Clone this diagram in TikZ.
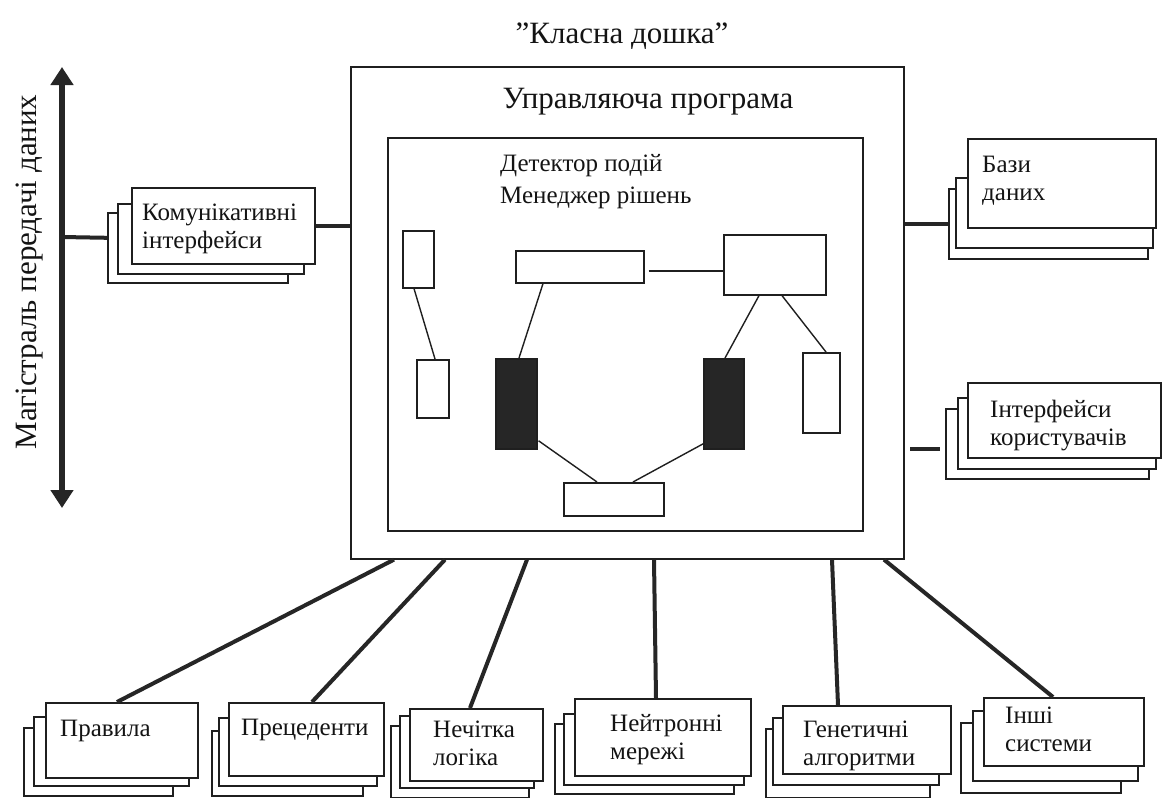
\documentclass[tikz,border=0pt]{standalone}
\usepackage{fontspec}
\setmainfont{Liberation Serif}
\usetikzlibrary{arrows.meta,calc}
\newcommand{\drawrect}[6][]{\node[sbox,#1,anchor=north west,minimum width={(#5-#3)*1pt},minimum height={(#6-#4)*1pt}] (#2) at (#3,#4) {};}
\tikzset{
  sbox/.style={draw=black!88, fill=white, line width=1.6pt, inner sep=0pt},
  darkbox/.style={fill=black!85},
  conn/.style={line width=4pt, draw=black!85},
  thinline/.style={line width=1.4pt, draw=black!88},
  lbl/.style={font=\fontsize{25}{28}\selectfont, anchor=base west, inner sep=0pt, align=left, text=black!92},
  big/.style={font=\fontsize{31}{36}\selectfont, inner sep=0pt, text=black!92},
}
\begin{document}
\begin{tikzpicture}[x=1pt,y=-1pt]
\useasboundingbox[fill=white] (0,0) rectangle (1165,798);

% title
\node[big] (title) at (622,36) {\symbol{34}Класна дошка\symbol{34}};

% bus
\coordinate (btop) at (62,67);
\coordinate (bbot) at (62,508);
\coordinate (btap) at (62,237);
\draw[line width=6pt, draw=black!85, {Triangle[length=18pt,width=22pt]}-{Triangle[length=18pt,width=22pt]}] (btop) -- (bbot);
\node[big, rotate=90, anchor=base] (busl) at (36,272) {Магістраль передачі даних};

% main box
\drawrect{M}{350}{66}{903}{558}
\node[big] (ctrl) at (648,102) {Управляюча програма};
\drawrect{I}{387}{137}{862}{530}
\node[lbl, font=\fontsize{25}{32}\selectfont] (det) at (500,203) {Детектор подій\\Менеджер рішень};

% inner boxes
\drawrect{A}{402}{230}{433}{287}
\drawrect{B}{416}{359}{448}{417}
\drawrect{C}{515}{250}{643}{282}
\drawrect{D}{723}{234}{825}{294}
\drawrect[darkbox]{DL}{495}{358}{536}{448}
\drawrect[darkbox]{DR}{703}{358}{743}{448}
\drawrect{E}{802}{352}{839}{432}
\drawrect{F}{563}{482}{663}{515}
\draw[thinline] ($(A.south west)+(12,0)$) -- ($(B.north west)+(19,0)$);
\draw[thinline] ($(C.south west)+(28,0)$) -- ($(DL.north west)+(24,0)$);
\draw[thinline] ($(C.east)+(4,4)$) -- ($(D.west)+(0,6)$);
\draw[thinline] ($(D.south west)+(36,0)$) -- ($(DR.north west)+(22,0)$);
\draw[thinline] ($(D.south west)+(59,0)$) -- ($(E.north west)+(24,0)$);
\draw[thinline] ($(DL.east)+(1,37)$) -- ($(F.north west)+(34,0)$);
\draw[thinline] ($(DR.west)+(2,39)$) -- ($(F.north west)+(70,0)$);

% communication interfaces
\drawrect{c3}{107}{212}{287}{282}
\drawrect{c2}{117}{203}{303}{273}
\drawrect{c1}{131}{187}{314}{263}
\node[lbl] (ct) at (142,248) {Комунікативні\\інтерфейси};
\draw[conn] (btap) -- ($(c3.west)+(0,-10)$);
\draw[conn] (c1.east) -- (M.west |- c1.east);

% databases
\drawrect{b3}{948}{188}{1147}{258}
\drawrect{b2}{955}{177}{1152}{247}
\drawrect{b1}{967}{138}{1155}{227}
\node[lbl] (bt) at (982,200) {Бази\\даних};
\draw[conn] (M.east |- b3.west) -- (b3.west);

% user interfaces
\drawrect{u3}{945}{408}{1148}{478}
\drawrect{u2}{957}{397}{1155}{468}
\drawrect{u1}{967}{382}{1160}{457}
\node[lbl] (ut) at (990,445) {Інтерфейси\\користувачів};
\coordinate (ua) at ($(u3.west)+(-35,5)$);
\coordinate (ub) at ($(u3.west)+(-5,5)$);
\draw[conn] (ua) -- (ub);

% bottom stacks
\drawrect{p3}{23}{727}{172}{795}
\drawrect{p2}{33}{716}{188}{785}
\drawrect{p1}{45}{702}{197}{777}
\node[lbl] (pt) at (60,736) {Правила};

\drawrect{r3}{211}{730}{362}{795}
\drawrect{r2}{218}{717}{376}{785}
\drawrect{r1}{228}{702}{383}{775}
\node[lbl] (rt) at (241,735) {Прецеденти};

\drawrect{n3}{390}{725}{528}{797}
\drawrect{n2}{399}{715}{533}{787}
\drawrect{n1}{409}{708}{542}{780}
\node[lbl] (nt) at (433,765) {Нечітка\\логіка};

\drawrect{h3}{554}{723}{733}{793}
\drawrect{h2}{563}{713}{743}{784}
\drawrect{h1}{574}{698}{750}{775}
\node[lbl] (ht) at (610,759) {Нейтронні\\мережі};

\drawrect{g3}{765}{728}{929}{797}
\drawrect{g2}{772}{717}{938}{784}
\drawrect{g1}{782}{705}{950}{773}
\node[lbl] (gt) at (803,765) {Генетичні\\алгоритми};

\drawrect{o3}{960}{722}{1120}{792}
\drawrect{o2}{972}{710}{1137}{780}
\drawrect{o1}{983}{697}{1143}{765}
\node[lbl] (ot) at (1005,751) {Інші\\системи};

\draw[conn] ($(M.south west)+(44,0)$) -- ($(p1.north west)+(72,0)$);
\draw[conn] ($(M.south west)+(95,0)$) -- ($(r1.north west)+(84,0)$);
\draw[conn] ($(M.south west)+(177,0)$) -- ($(n1.north west)+(61,0)$);
\draw[conn] ($(M.south west)+(304,0)$) -- ($(h1.north west)+(82,0)$);
\draw[conn] ($(M.south west)+(482,0)$) -- ($(g1.north west)+(56,0)$);
\draw[conn] ($(M.south west)+(534,0)$) -- ($(o1.north west)+(70,0)$);
\end{tikzpicture}
\end{document}
